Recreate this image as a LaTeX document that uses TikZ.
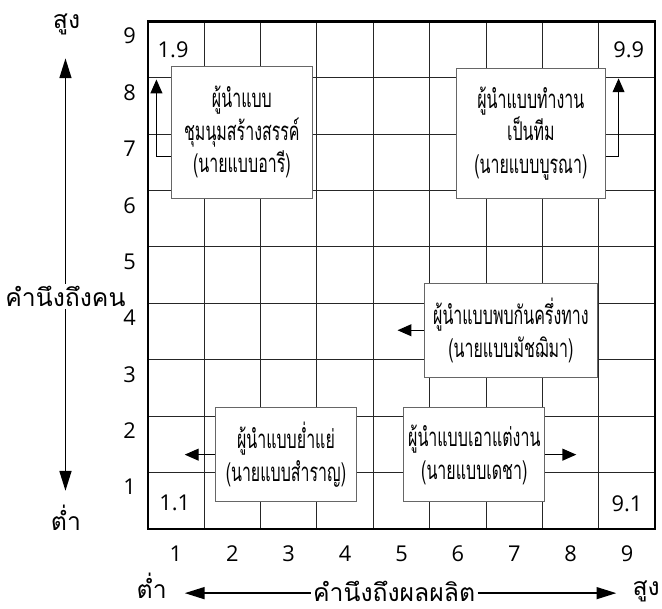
\documentclass[tikz,border=0pt]{standalone}
\usepackage{fontspec}
\setmainfont{Open Sans}
\newfontfamily\thaifont[Script=Thai]{Loma}
\newfontfamily\boxfont[Script=Thai, FakeStretch=0.62]{Loma}
\usetikzlibrary{arrows.meta, positioning}

\begin{document}
\begin{tikzpicture}[
    leader/.style={draw=black!60, fill=white, line width=0.5pt, align=center,
        inner sep=1pt, font=\boxfont\fontsize{13}{16.5}\selectfont},
    tick/.style={font=\fontsize{11}{13}\selectfont},
    axislabel/.style={font=\thaifont\fontsize{12.5}{15}\selectfont, inner sep=1pt},
    pointer/.style={-{Triangle[length=7pt, width=6pt]}, line width=0.6pt},
    axisarrow/.style={-{Triangle[length=10pt, width=6pt]}, line width=0.9pt}
]
    \useasboundingbox (-2.62,-1.42) rectangle (9.12,9.38);
    % grid
    \draw[line width=0.5pt, black!85] (0,0) grid (9,9);
    \draw[line width=1.2pt] (0,0) rectangle (9,9);
    % scale numbers
    \foreach \i in {1,...,9} {
        \node[tick] (x\i) at (\i-0.5,-0.44) {\i};
        \node[tick] (y\i) at (-0.32,\i-0.26) {\i};
    }
    % corner values
    \node[tick] (c19) at (0.45,8.5) {1.9};
    \node[tick] (c99) at (8.53,8.5) {9.9};
    \node[tick] (c11) at (0.48,0.47) {1.1};
    \node[tick] (c91) at (8.5,0.45) {9.1};
    % leadership styles
    \node[leader, minimum width=2.49cm, minimum height=2.34cm] (ari) at (1.67,7.035)
        {ผู้นำแบบ\\ชุมนุมสร้างสรรค์\\(นายแบบอารี)};
    \node[leader, minimum width=2.64cm, minimum height=2.29cm] (burana) at (6.794,7.013)
        {ผู้นำแบบทำงาน\\เป็นทีม\\(นายแบบบูรณา)};
    \node[leader, minimum width=3.08cm, minimum height=1.66cm] (matchima) at (6.44,3.523)
        {ผู้นำแบบพบกันครึ่งทาง\\(นายแบบมัชฌิมา)};
    \node[leader, minimum width=2.5cm, minimum height=1.67cm] (samran) at (2.451,1.317)
        {ผู้นำแบบย่ำแย่\\(นายแบบสำราญ)};
    \node[leader, minimum width=2.5cm, minimum height=1.67cm] (decha) at (5.791,1.317)
        {ผู้นำแบบเอาแต่งาน\\(นายแบบเดชา)};
    % pointers
    \coordinate (ari out) at (0,6.6);
    \coordinate (ari tip) at (0.154,7.97);
    \coordinate (burana out) at (0,6.6);
    \coordinate (burana tip) at (8.35,7.99);
    \coordinate (matchima tip) at (4.43,3.523);
    \coordinate (samran tip) at (0.656,1.317);
    \coordinate (decha tip) at (7.6,1.317);
    \draw[pointer] (ari.west |- ari out) -| (ari tip);
    \draw[pointer] (burana.east |- burana out) -| (burana tip);
    \draw[pointer] (matchima) -- (matchima tip);
    \draw[pointer] (samran) -- (samran tip);
    \draw[pointer] (decha) -- (decha tip);
    % axes
    \node[axislabel] (people) at (-1.459,4.12) {คำนึงถึงคน};
    \node[axislabel] (yhigh) at (-1.44,8.95) {สูง};
    \node[axislabel] (ylow) at (-1.45,0.2) {ต่ำ};
    \coordinate (ytop) at (-1.459,8.345);
    \coordinate (ybot) at (-1.459,0.676);
    \draw[axisarrow] (people) -- (ytop);
    \draw[axisarrow] (people) -- (ybot);
    \node[axislabel] (output) at (4.37,-1.1) {คำนึงถึงผลผลิต};
    \node[axislabel] (xlow) at (0.07,-1.0) {ต่ำ};
    \node[axislabel] (xhigh) at (8.84,-1.1) {สูง};
    \coordinate (xleft) at (0.656,-1.139);
    \coordinate (xright) at (8.31,-1.139);
    \draw[axisarrow] (output.west |- xleft) -- (xleft);
    \draw[axisarrow] (output.east |- xright) -- (xright);
\end{tikzpicture}
\end{document}
